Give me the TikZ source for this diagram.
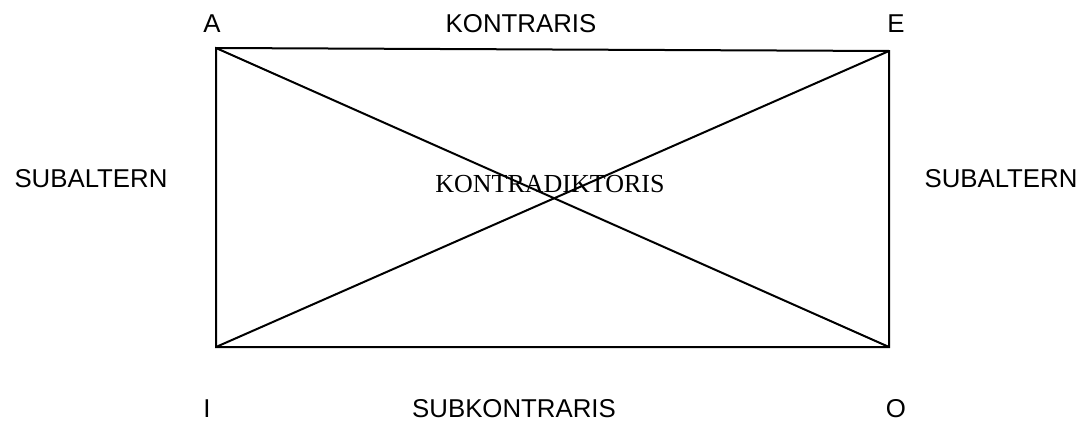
\documentclass[tikz,border=0pt]{standalone}
\usepackage{fontspec}
\setmainfont{Liberation Sans}
\newfontfamily\serifface{Liberation Serif}
\begin{document}
\begin{tikzpicture}[x=0.5pt,y=-0.5pt,
  edge/.style={line width=1pt,black},
  lbl/.style={inner sep=0pt,font=\fontsize{12.9}{15}\selectfont},
  seriflbl/.style={inner sep=0pt,font=\serifface\fontsize{13}{15}\selectfont}]
\useasboundingbox (0,0) rectangle (1088,423);
\coordinate (A) at (216,48);
\coordinate (E) at (889,51);
\coordinate (O) at (889,347);
\coordinate (I) at (216,347);
\draw[edge] (A) -- (E) -- (O) -- (I) -- cycle;
\draw[edge] (A) -- (O);
\draw[edge] (I) -- (E);
\node[lbl] (la) at (212,24) {A};
\node[lbl] (lkon) at (521,24) {KONTRARIS};
\node[lbl] (le) at (896,24) {E};
\node[lbl] (lsubl) at (91,179) {SUBALTERN};
\node[lbl] (lsubr) at (1001,179) {SUBALTERN};
\node[seriflbl] (lkd) at (550,184) {KONTRADIKTORIS};
\node[lbl] (li) at (207,409) {I};
\node[lbl] (lsk) at (514,409) {SUBKONTRARIS};
\node[lbl] (lo) at (896,409) {O};
\end{tikzpicture}
\end{document}
